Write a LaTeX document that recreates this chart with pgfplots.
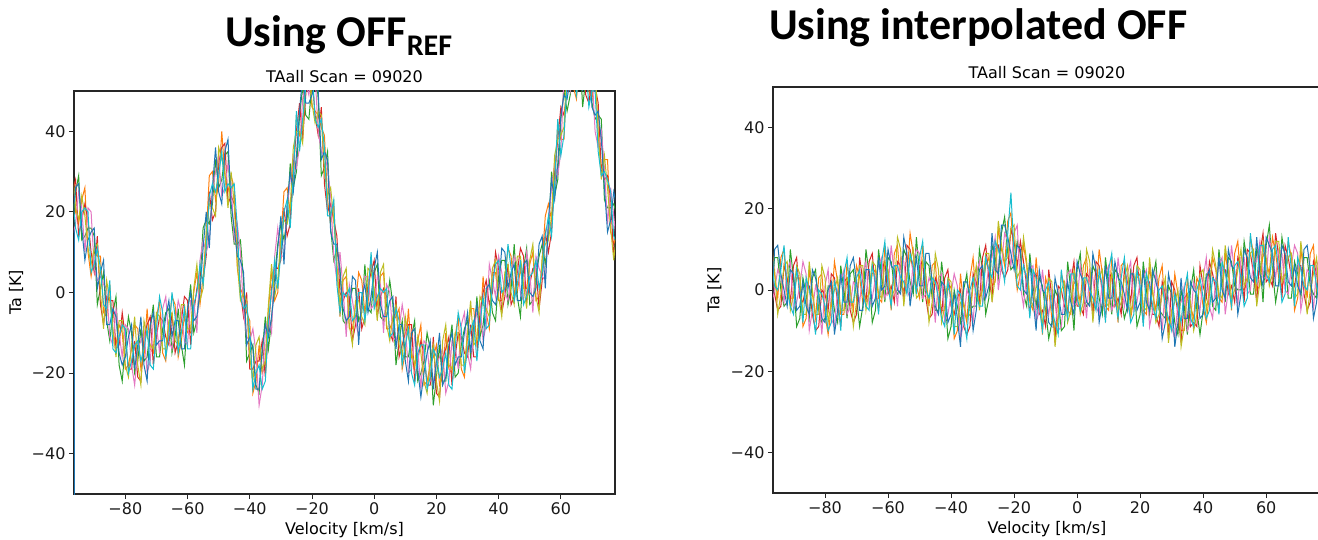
\documentclass[border=0pt]{standalone}
\usepackage{pgfplots}
\pgfplotsset{compat=1.18}
\usepackage{pgfplotstable}
\usepackage{fontspec}
\setmainfont{DejaVu Sans}
\newfontfamily\titlefont{Carlito}
\definecolor{cOr}{HTML}{FF7F0E}
\definecolor{cGr}{HTML}{2CA02C}
\definecolor{cRe}{HTML}{D62728}
\definecolor{cPk}{HTML}{E377C2}
\definecolor{cOl}{HTML}{BCBD22}
\definecolor{cBl}{HTML}{1F77B4}
\definecolor{cCy}{HTML}{17BECF}

\pgfplotstableread{
x a b c d e f g
-97 29 17 25 14 31 18 24
-96 20 25 28 17 21 26 16
-95 17 29 14 25 18 27 13
-94 23 13 18 21 24 16 20
-93 26 14 22 10 19 8 21
-92 10 16 18 21 11 13 20
-91 4 16 10 20 7 15 5
-90 10 14 5 6 11 16 7
-89 9 -3 14 3 12 1 11
-88 9 1 -3 4 0 5 6
-87 -5 5 -8 2 -9 8 -3
-86 -6 -7 -1 1 3 -8 -4
-85 2 -12 -2 -11 -2 -8 3
-84 -10 -5 -2 -13 -9 -4 -14
-83 -13 -1 -14 -4 -16 -6 -15
-82 -8 -18 -13 -10 -7 -15 -11
-81 -10 -22 -5 -16 -7 -18 -8
-80 -19 -13 -11 -8 -18 -16 -9
-79 -18 -6 -19 -9 -21 -11 -20
-78 -14 -10 -19 -18 -13 -8 -17
-77 -8 -20 -12 -23 -6 -19 -13
-76 -9 -17 -21 -14 -18 -13 -12
-75 -19 -9 -22 -12 -23 -6 -17
-74 -16 -17 -11 -9 -7 -18 -14
-73 -4 -16 -8 -20 -11 -22 -9
-72 -14 -9 -6 -17 -13 -8 -18
-71 -15 -3 -18 -7 -14 -5 -19
-70 -6 -16 -11 -8 -5 -13 -9
-69 -2 -16 -6 -15 -6 -12 -1
-68 -15 -9 -7 -4 -14 -12 -5
-67 -17 -5 -11 -1 -14 -6 -16
-66 -8 -4 -13 -12 -7 -2 -11
-65 -1 -15 -5 -14 -5 -11 0
-64 -3 -11 -15 -8 -12 -7 -6
-63 -16 -4 -12 -2 -13 -7 -15
-62 -12 -13 -7 -5 -3 -14 -10
-61 -6 -18 -1 -12 -3 -14 -4
-60 -10 -5 -2 -13 -9 -4 -14
-59 -10 2 -13 -2 -9 0 -14
-58 0 -10 -5 -2 1 -7 -3
-57 5 -7 1 -10 7 -6 0
-56 -3 3 5 8 -2 0 7
-55 4 16 3 13 1 11 2
-54 14 18 9 10 15 20 11
-53 29 17 25 13 22 11 24
-52 30 22 18 25 21 26 27
-51 23 33 20 30 19 36 25
-50 27 26 32 34 36 25 29
-49 40 28 36 24 33 22 35
-48 29 34 37 26 30 35 25
-47 25 35 22 32 21 38 27
-46 29 19 24 27 30 22 26
-45 26 12 22 13 22 16 27
-44 6 12 14 17 7 9 16
-43 1 13 0 10 -2 8 -1
-42 -1 3 -6 -5 0 5 -4
-41 -5 -17 0 -11 -2 -13 -3
-40 -7 -15 -19 -12 -16 -11 -10
-39 -25 -13 -19 -9 -22 -14 -24
-38 -22 -23 -17 -15 -13 -24 -20
-37 -13 -25 -17 -28 -11 -24 -18
-36 -20 -15 -12 -23 -19 -14 -24
-35 -18 -6 -21 -10 -17 -8 -22
-34 -4 -14 -9 -6 -3 -11 -7
-33 5 -7 1 -10 7 -6 0
-32 -2 4 6 9 -1 1 8
-31 0 12 6 16 3 11 1
-30 13 17 8 9 14 19 10
-29 25 13 21 9 18 7 20
-28 26 18 14 21 17 22 23
-27 20 32 17 28 21 30 16
-26 27 26 32 34 36 25 29
-25 44 30 40 31 40 34 45
-24 39 44 47 36 40 45 35
-23 41 51 38 48 37 54 43
-22 54 44 49 52 55 47 51
-21 55 43 60 49 58 47 57
-20 46 52 54 57 47 49 56
-19 45 57 44 54 42 52 43
-18 44 48 39 40 45 50 41
-17 41 29 46 35 44 33 43
-16 39 31 27 34 30 35 36
-15 23 35 20 31 24 33 19
-14 17 16 22 24 26 15 19
-13 22 8 18 9 18 12 23
-12 6 11 14 3 7 12 2
-11 -6 6 0 10 -3 5 -5
-10 3 -7 -2 1 4 -4 0
-9 4 -8 0 -11 6 -7 -1
-8 -9 -3 -1 2 -8 -6 1
-7 -9 1 -12 -2 -13 4 -7
-6 -3 1 -8 -7 -2 3 -6
-5 5 -7 1 -11 -2 -13 0
-4 3 -5 -9 -2 -6 -1 0
-3 -5 7 -6 4 -8 2 -7
-2 -3 -4 2 4 6 -5 -1
-1 9 -5 5 -4 5 -1 10
0 0 5 8 -3 1 6 -4
1 -3 7 -6 4 -7 10 -1
2 4 -6 -1 2 5 -3 1
3 5 -7 1 -10 7 -6 0
4 -9 -3 -1 2 -8 -6 1
5 -9 3 -10 0 -12 -2 -11
6 -7 -3 -12 -11 -6 -1 -10
7 -6 -18 -1 -12 -3 -14 -4
8 -4 -12 -16 -9 -13 -8 -7
9 -19 -7 -13 -3 -16 -8 -18
10 -15 -16 -10 -8 -6 -17 -13
11 -4 -16 -8 -20 -11 -22 -9
12 -16 -11 -8 -19 -15 -10 -20
13 -19 -7 -22 -11 -18 -9 -23
14 -12 -22 -17 -14 -11 -19 -15
15 -8 -20 -12 -24 -15 -26 -13
16 -23 -17 -15 -12 -22 -20 -13
17 -22 -10 -23 -13 -25 -15 -24
18 -18 -14 -23 -22 -17 -12 -21
19 -16 -28 -11 -22 -13 -24 -14
20 -13 -21 -25 -18 -22 -17 -16
21 -23 -13 -26 -16 -27 -10 -21
22 -21 -22 -16 -14 -12 -23 -19
23 -10 -22 -14 -25 -8 -21 -15
24 -19 -14 -11 -22 -18 -13 -23
25 -20 -8 -23 -12 -19 -10 -24
26 -11 -21 -16 -13 -10 -18 -14
27 -6 -20 -10 -19 -10 -16 -5
28 -19 -13 -11 -8 -18 -16 -9
29 -21 -9 -15 -5 -18 -10 -20
30 -11 -7 -16 -15 -10 -5 -14
31 -4 -16 -8 -19 -2 -15 -9
32 -4 -12 -16 -9 -13 -8 -7
33 -13 -1 -16 -5 -12 -3 -17
34 -10 -11 -5 -3 -1 -12 -8
35 4 -8 0 -12 -3 -14 -1
36 -5 0 3 -8 -4 1 -9
37 -9 3 -3 7 -6 2 -8
38 5 -5 0 3 6 -2 2
39 5 -7 10 -1 8 -3 7
40 -2 4 6 9 -1 1 8
41 -2 8 -5 5 -6 11 0
42 4 8 -1 0 5 10 1
43 11 -3 7 -2 7 1 12
44 9 1 -3 4 0 5 6
45 0 12 -1 9 -3 7 -2
46 0 -1 5 7 9 -2 2
47 6 -6 11 0 9 -2 8
48 1 6 9 -2 2 7 -3
49 1 11 -2 10 -4 8 -1
50 7 -3 2 5 8 0 4
51 10 -2 6 -5 12 -1 5
52 -2 4 6 9 -1 1 8
53 -1 9 -4 6 -5 12 1
54 8 12 3 4 9 14 5
55 19 7 15 3 12 1 14
56 22 14 10 17 13 18 19
57 18 30 15 26 19 28 14
58 25 24 30 32 34 23 27
59 42 28 38 29 38 32 43
60 38 43 46 35 39 44 34
61 38 50 44 54 41 49 39
62 55 45 50 53 56 48 52
63 63 49 59 50 59 53 64
64 51 57 59 62 52 54 61
65 48 60 54 64 51 59 49
66 57 61 52 53 58 63 54
67 58 46 63 52 61 50 60
68 61 53 49 56 52 57 58
69 50 62 47 58 51 60 46
70 48 47 53 55 57 46 50
71 55 43 51 40 57 44 50
72 39 44 47 36 40 45 35
73 31 43 30 40 28 38 29
74 33 23 28 31 34 26 30
75 33 21 29 17 26 15 28
76 15 21 23 26 16 18 25
77 12 22 9 19 8 25 14
78 15 19 10 11 16 21 12
79 21 9 17 5 14 3 16
}\leftdata

\pgfplotstableread{
x a b c d e f g
-97 12 0 8 -4 5 -6 7
-96 4 8 -1 0 5 10 1
-95 -2 8 -5 5 -6 11 0
-94 8 0 -4 3 -1 4 5
-93 10 -4 6 -3 6 0 11
-92 -2 -3 3 5 7 -4 0
-91 -2 10 -3 7 -5 5 -4
-90 -2 3 6 -5 -1 4 -6
-89 3 -9 8 -3 6 -5 5
-88 3 -7 -2 1 4 -4 0
-87 -9 3 -3 7 -6 2 -8
-86 -7 -1 1 4 -6 -4 3
-85 5 -7 1 -10 7 -6 0
-84 -1 3 -6 -5 0 5 -4
-83 -7 5 -10 1 -6 3 -11
-82 3 -5 -9 -2 -6 -1 0
-81 4 -8 0 -11 6 -7 -1
-80 -6 -7 -1 1 3 -8 -4
-79 -11 1 -5 5 -8 0 -10
-78 -4 1 4 -7 -3 2 -8
-77 7 -5 3 -9 0 -11 2
-76 2 -8 -3 0 3 -5 -1
-75 -6 6 -9 2 -5 4 -10
-74 -6 0 2 5 -5 -3 4
-73 7 -7 3 -6 3 -3 8
-72 0 4 -5 -4 1 6 -3
-71 -5 5 -8 2 -9 8 -3
-70 6 -2 -6 1 -3 2 3
-69 3 -9 8 -3 6 -5 5
-68 -3 -4 2 4 6 -5 -1
-67 -2 10 -3 7 -5 5 -4
-66 -1 4 7 -4 0 5 -5
-65 4 -8 9 -2 7 -4 6
-64 5 -5 0 3 6 -2 2
-63 -2 10 -5 6 -1 8 -6
-62 -3 3 5 8 -2 0 7
-61 11 -3 7 -2 7 1 12
-60 4 8 -1 0 5 10 1
-59 -5 7 1 11 -2 6 -4
-58 9 1 -3 4 0 5 6
-57 11 -1 7 -4 13 0 6
-56 1 0 6 8 10 -1 3
-55 0 10 -3 7 -4 13 2
-54 3 8 11 0 4 9 -1
-53 14 2 10 -2 7 -4 9
-52 9 -1 4 7 10 2 6
-51 1 13 0 10 -2 8 -1
-50 -2 4 6 9 -1 1 8
-49 11 -3 7 -2 7 1 12
-48 3 7 -2 -1 4 9 0
-47 -4 6 -7 3 -8 9 -2
-46 6 -2 -6 1 -3 2 3
-45 7 -5 3 -8 9 -4 2
-44 -4 -5 1 3 5 -6 -2
-43 -5 7 -6 4 -8 2 -7
-42 -5 0 3 -8 -4 1 -9
-41 0 -12 5 -6 3 -8 2
-40 1 -9 -4 -1 2 -6 -2
-39 -12 0 -6 4 -9 -1 -11
-38 -10 -4 -2 1 -9 -7 0
-37 4 -8 0 -12 -3 -14 -1
-36 -4 0 -9 -8 -3 2 -7
-35 -8 4 -11 0 -7 2 -12
-34 3 -5 -9 -2 -6 -1 0
-33 8 -4 4 -8 1 -10 3
-32 -3 -4 2 4 6 -5 -1
-31 -2 10 -3 7 -5 5 -4
-30 0 5 8 -3 1 6 -4
-29 6 -6 11 0 9 -2 8
-28 8 -2 3 6 9 1 5
-27 1 11 -2 8 -3 14 3
-26 2 8 10 13 3 5 12
-25 15 3 11 0 17 4 10
-24 10 14 5 6 11 16 7
-23 6 18 3 14 7 16 2
-22 17 9 5 12 8 13 14
-21 19 5 15 6 15 9 24
-20 7 6 12 14 16 5 9
-19 0 12 6 16 3 11 1
-18 4 9 12 1 5 10 0
-17 11 -1 7 -4 13 0 6
-16 6 -4 1 4 7 -1 3
-15 -3 9 -6 5 -2 7 -7
-14 -5 1 3 6 -4 -2 5
-13 8 -4 4 -8 1 -10 3
-12 -1 3 -6 -5 0 5 -4
-11 -11 1 -5 5 -8 0 -10
-10 3 -5 -9 -2 -6 -1 0
-9 0 -12 5 -6 3 -8 2
-8 -7 -8 -2 0 2 -9 -5
-7 -10 0 -13 -3 -14 3 -8
-6 -7 -2 1 -10 -6 -1 -11
-5 4 -10 0 -9 0 -6 5
-4 1 -9 -4 -1 2 -6 -2
-3 -5 7 -6 4 -8 2 -7
-2 -6 0 2 5 -5 -3 4
-1 2 -10 7 -4 5 -6 4
0 1 5 -4 -3 2 7 -2
1 -3 9 -4 6 -6 4 -5
2 6 -2 -6 1 -3 2 3
3 8 -4 4 -7 10 -3 3
4 -2 -3 3 5 7 -4 0
5 -4 6 -7 3 -8 9 -2
6 -1 4 7 -4 0 5 -5
7 10 -2 6 -6 3 -8 5
8 4 -6 -1 2 5 -3 1
9 -4 8 -7 4 -3 6 -8
10 -5 1 3 6 -4 -2 5
11 8 -6 4 -5 4 -2 9
12 1 5 -4 -3 2 7 -2
13 -8 4 -2 8 -5 3 -7
14 6 -2 -6 1 -3 2 3
15 7 -7 5 -4 3 -1 8
16 -3 -4 2 4 6 -5 -1
17 -7 5 -3 7 -6 4 -8
18 -2 3 6 -5 -1 4 -6
19 3 -9 8 -3 6 -5 5
20 4 -6 -1 2 5 -3 1
21 -5 7 -8 3 -4 5 -9
22 -6 0 2 5 -5 -3 4
23 6 -6 2 -9 8 -5 1
24 -1 3 -6 -5 0 5 -4
25 -5 7 -6 4 -8 2 -7
26 3 -5 -9 -2 -6 -1 0
27 6 -6 2 -10 -1 -12 1
28 -6 -7 -1 1 3 -8 -4
29 -9 1 -12 -2 -13 4 -7
30 -6 -1 2 -9 -5 0 -10
31 4 -8 0 -12 -3 -14 -1
32 -1 -11 -6 -3 0 -8 -4
33 -10 0 -13 -3 -14 3 -8
34 -10 -4 -2 1 -9 -7 0
35 3 -11 -1 -10 -1 -7 4
36 -4 0 -9 -8 -3 2 -7
37 -7 5 -8 2 -10 0 -9
38 3 -5 -9 -2 -6 -1 0
39 1 -11 6 -5 4 -7 3
40 -4 -5 1 3 5 -6 -2
41 -8 4 -2 8 -5 3 -7
42 -1 4 7 -4 0 5 -5
43 8 -4 4 -7 10 -3 3
44 5 -5 0 3 6 -2 2
45 -2 10 -5 6 -1 8 -6
46 -3 3 5 8 -2 0 7
47 9 -3 5 -6 11 -2 4
48 4 8 -1 0 5 10 1
49 -5 7 1 11 -2 6 -4
50 9 1 -3 4 0 5 6
51 12 0 8 -4 5 -6 7
52 1 0 6 8 10 -1 3
53 0 12 -3 8 1 10 -4
54 2 7 10 -1 3 8 -2
55 13 -1 9 0 9 3 14
56 9 -1 4 7 10 2 6
57 0 10 -3 7 -4 13 2
58 1 7 9 12 2 4 11
59 9 -3 14 3 12 1 11
60 7 11 2 3 8 13 4
61 4 16 3 13 1 11 2
62 13 5 1 8 4 9 10
63 9 -3 14 3 12 1 11
64 3 2 8 10 12 1 5
65 1 13 -2 9 2 11 -3
66 3 8 11 0 4 9 -1
67 12 -2 8 -1 8 2 13
68 8 -2 3 6 9 1 5
69 -5 7 1 11 -2 6 -4
70 -2 4 6 9 -1 1 8
71 10 -2 6 -5 12 -1 5
72 4 8 -1 0 5 10 1
73 -2 8 -5 5 -6 11 0
74 9 1 -3 4 0 5 6
75 11 -1 7 -5 4 -7 6
76 -1 -2 4 6 8 -3 1
77 -1 11 -2 8 -4 6 -3
78 0 5 8 -3 1 6 -4
79 10 -4 6 -3 6 0 11
}\rightdata

\pgfplotsset{
  spec/.style={
    scale only axis,
    xmin=-96.5, xmax=77.4, ymin=-50, ymax=50,
    xtick={-80,-60,-40,-20,0,20,40,60},
    xticklabels={−80,−60,−40,−20,0,20,40,60},
    ytick={-40,-20,0,20,40},
    yticklabels={−40,−20,0,20,40},
    tick align=outside, tick pos=left,
    major tick length=5pt,
    tick style={black!85, line width=0.9pt},
    axis line style={black!85, line width=1.1pt},
    ticklabel style={font=\fontsize{16}{18}\selectfont, text=black!90},
    xlabel={Velocity [km/s]}, ylabel={Ta [K]},
    every axis x label/.style={at={(axis description cs:0.5,-0.1)}, anchor=base, font=\fontsize{16}{18}\selectfont},
    every axis y label/.style={at={(axis description cs:-0.107,0.5)}, rotate=90, anchor=center, font=\fontsize{16}{18}\selectfont},
    title={TAall Scan = 09020},
    every axis title/.style={at={(axis description cs:0.5,1.02)}, anchor=base, font=\fontsize{16}{18}\selectfont},
    every axis plot/.append style={line width=1pt, mark=none},
  }
}

\begin{document}
\begin{tikzpicture}
\useasboundingbox (0,0) rectangle (1318pt,539pt);
\begin{axis}[spec, width=541pt, height=403pt, at={(74pt,45pt)}, anchor=south west]
\addplot[cBl] coordinates {(-96.45,-60) (-96.45,16)};
\addplot[cOr] table[x=x,y=a]{\leftdata};
\addplot[cGr] table[x=x,y=b]{\leftdata};
\addplot[cRe] table[x=x,y=c]{\leftdata};
\addplot[cPk] table[x=x,y=d]{\leftdata};
\addplot[cOl] table[x=x,y=e]{\leftdata};
\addplot[cBl] table[x=x,y=f]{\leftdata};
\addplot[cCy] table[x=x,y=g]{\leftdata};
\end{axis}
\begin{axis}[spec, width=548pt, height=406pt, at={(773pt,46pt)}, anchor=south west]
\addplot[cOr] table[x=x,y=a]{\rightdata};
\addplot[cGr] table[x=x,y=b]{\rightdata};
\addplot[cRe] table[x=x,y=c]{\rightdata};
\addplot[cPk] table[x=x,y=d]{\rightdata};
\addplot[cOl] table[x=x,y=e]{\rightdata};
\addplot[cBl] table[x=x,y=f]{\rightdata};
\addplot[cCy] table[x=x,y=g]{\rightdata};
\end{axis}
\node[anchor=base west, inner sep=0pt] at (225pt,492pt)
  {\titlefont\bfseries\fontsize{44}{48}\selectfont Using OFF\raisebox{-9pt}{\fontsize{30}{32}\selectfont REF}};
\node[anchor=base west, inner sep=0pt] at (769pt,499pt)
  {\titlefont\bfseries\fontsize{44}{48}\selectfont Using interpolated OFF};
\end{tikzpicture}
\end{document}
